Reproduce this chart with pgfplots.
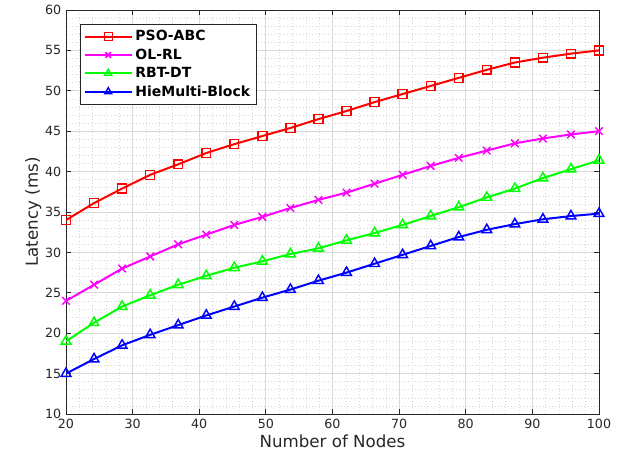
\documentclass[border=0pt]{standalone}
\usepackage{fontspec}
\setmainfont{DejaVu Sans}
\usepackage{pgfplots}
\pgfplotsset{compat=1.18}

\definecolor{axgray}{gray}{0.15}
\definecolor{mred}{rgb}{1,0,0}
\definecolor{mmag}{rgb}{1,0,1}
\definecolor{mgreen}{rgb}{0,1,0}
\definecolor{mblue}{rgb}{0,0,1}

\begin{document}
\begin{tikzpicture}
\useasboundingbox (-49.5pt,-42.75pt) rectangle (420.75pt,310.5pt);
\begin{axis}[
    at={(0,0)}, anchor=south west,
    scale only axis,
    width=399.75pt, height=303pt,
    xmin=20, xmax=100, ymin=10, ymax=60,
    xtick={20,30,...,100}, ytick={10,15,...,60},
    minor x tick num=4, minor y tick num=4,
    grid=both,
    major grid style={gray!30, line width=0.6pt},
    minor grid style={gray!32, dotted, line width=0.4pt},
    minor tick length=0pt,
    major tick length=4pt,
    tick align=inside,
    xtick pos=both, ytick pos=both,
    axis line style={axgray, line width=0.6pt},
    tick style={axgray, line width=0.6pt},
    tick label style={font=\fontsize{9.5}{11}\selectfont, text=axgray},
    /pgf/number format/assume math mode=true,
    xlabel={Number of Nodes}, ylabel={Latency (ms)},
    label style={font=\fontsize{12.5}{14}\selectfont, text=axgray},
    xlabel style={yshift=2pt},
    ylabel style={yshift=-4pt},
    legend style={at={(rel axis cs:0,1)}, anchor=north west,
        xshift=10.5pt, yshift=-10.5pt,
        font=\bfseries\fontsize{10.5}{12}\selectfont,
        draw=axgray, line width=0.6pt, fill=white,
        row sep=0.5pt, inner sep=2.5pt},
    legend cell align=left,
    every axis plot/.append style={line width=1.5pt},
    legend image post style={line width=1.5pt, mark size=3pt},
    legend image code/.code={
        \draw[mark repeat=2,mark phase=2] plot coordinates {(0cm,0cm) (0.62cm,0cm) (1.24cm,0cm)};},
]
\addplot[mred, mark=square, mark options={fill=white, line width=1.1pt}, mark size=3.3pt] coordinates {
(20.000,34.0) (24.211,36.1) (28.421,37.9) (32.632,39.6) (36.842,40.9)
(41.053,42.3) (45.263,43.4) (49.474,44.4) (53.684,45.4) (57.895,46.5)
(62.105,47.5) (66.316,48.6) (70.526,49.6) (74.737,50.6) (78.947,51.6)
(83.158,52.6) (87.368,53.5) (91.579,54.1) (95.789,54.6) (100.000,55.0)
};
\addlegendentry{PSO-ABC}
\addplot[mmag, mark=x, mark options={line width=1.1pt}, mark size=4pt] coordinates {
(20.000,24.0) (24.211,26.0) (28.421,28.0) (32.632,29.5) (36.842,31.0)
(41.053,32.2) (45.263,33.4) (49.474,34.4) (53.684,35.5) (57.895,36.5)
(62.105,37.4) (66.316,38.5) (70.526,39.6) (74.737,40.7) (78.947,41.7)
(83.158,42.6) (87.368,43.5) (91.579,44.1) (95.789,44.6) (100.000,45.0)
};
\addlegendentry{OL-RL}
\addplot[mgreen, mark=triangle, mark options={fill=white, line width=1.1pt}, mark size=4.2pt] coordinates {
(20.000,19.0) (24.211,21.3) (28.421,23.3) (32.632,24.7) (36.842,26.0)
(41.053,27.1) (45.263,28.1) (49.474,28.9) (53.684,29.8) (57.895,30.5)
(62.105,31.5) (66.316,32.4) (70.526,33.4) (74.737,34.5) (78.947,35.6)
(83.158,36.8) (87.368,37.9) (91.579,39.2) (95.789,40.3) (100.000,41.4)
};
\addlegendentry{RBT-DT}
\addplot[mblue, mark=triangle, mark options={fill=white, line width=1.1pt}, mark size=4.2pt] coordinates {
(20.000,15.0) (24.211,16.8) (28.421,18.5) (32.632,19.8) (36.842,21.0)
(41.053,22.2) (45.263,23.3) (49.474,24.4) (53.684,25.4) (57.895,26.5)
(62.105,27.5) (66.316,28.6) (70.526,29.7) (74.737,30.8) (78.947,31.9)
(83.158,32.8) (87.368,33.5) (91.579,34.1) (95.789,34.5) (100.000,34.8)
};
\addlegendentry{HieMulti-Block}
\end{axis}
\end{tikzpicture}
\end{document}
